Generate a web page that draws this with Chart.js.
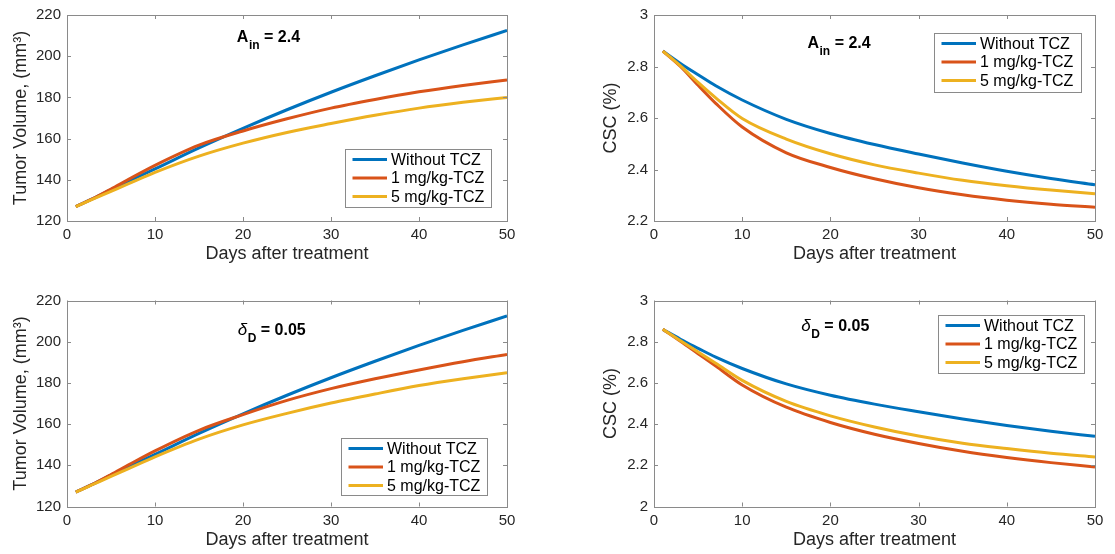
<!DOCTYPE html>
<html>
<head>
<meta charset="utf-8">
<script src="https://cdn.jsdelivr.net/npm/chart.js@4.4.0/dist/chart.umd.min.js"></script>
<style>
  body { margin: 0; background: #fff; }
  #wrap { position: relative; width: 1115px; height: 554px; overflow: hidden; }
  #wrap canvas { position: absolute; }
</style>
</head>
<body>
<div id="wrap">
  <canvas id="volAin" width="557" height="277" style="left:0;top:0"></canvas>
  <canvas id="cscAin" width="558" height="277" style="left:557px;top:0"></canvas>
  <canvas id="volDelta" width="557" height="277" style="left:0;top:277px"></canvas>
  <canvas id="cscDelta" width="558" height="277" style="left:557px;top:277px"></canvas>
</div>
<script>
// simulation output, sampled days after treatment
const days = [1, 3, 5, 7, 10, 15, 20, 25, 30, 35, 40, 45, 50];
const seriesLabels = ['Without TCZ', '1 mg/kg-TCZ', '5 mg/kg-TCZ'];
const seriesColors = ['#0072BD', '#D95319', '#EDB120'];

// A_in = 2.4
const volAinNone = [127, 131, 135.2, 139.3, 145.3, 155.5, 165, 174, 182.5, 190.5, 198.2, 205.5, 212.5];
const volAin1mg  = [127, 131, 135.5, 140.2, 147, 156.8, 163.7, 169.6, 174.8, 179, 182.7, 185.8, 188.5];
const volAin5mg  = [127, 130.7, 134.4, 138.1, 143.6, 151.5, 157.8, 163, 167.3, 171.3, 174.8, 177.6, 180];
const cscAinNone = [2.86, 2.812, 2.768, 2.725, 2.67, 2.595, 2.54, 2.497, 2.46, 2.425, 2.393, 2.365, 2.341];
const cscAin1mg  = [2.86, 2.8, 2.727, 2.657, 2.565, 2.465, 2.408, 2.364, 2.329, 2.302, 2.281, 2.265, 2.253];
const cscAin5mg  = [2.86, 2.802, 2.738, 2.678, 2.598, 2.518, 2.461, 2.418, 2.386, 2.358, 2.337, 2.32, 2.306];

// delta_D = 0.05
const volDeltaNone = [127, 131, 135.2, 139.3, 145.3, 155.5, 165, 174, 182.5, 190.5, 198.2, 205.5, 212.5];
const volDelta1mg  = [127, 131, 135.5, 140.2, 147, 157, 164.6, 171.5, 177.2, 182, 186.3, 190.3, 193.8];
const volDelta5mg  = [127, 130.8, 134.6, 138.4, 144.1, 152.7, 159.6, 165.2, 170.2, 174.6, 178.7, 182, 184.9];
const cscDeltaNone = [2.86, 2.812, 2.768, 2.725, 2.67, 2.595, 2.54, 2.497, 2.46, 2.425, 2.393, 2.365, 2.341];
const cscDelta1mg  = [2.86, 2.802, 2.742, 2.682, 2.59, 2.482, 2.408, 2.351, 2.306, 2.268, 2.238, 2.213, 2.192];
const cscDelta5mg  = [2.86, 2.805, 2.75, 2.695, 2.612, 2.51, 2.44, 2.386, 2.342, 2.307, 2.281, 2.258, 2.24];

const dayTicks = [0, 10, 20, 30, 40, 50];
const volTicks = [120, 140, 160, 180, 200, 220];
const cscTicksAin = [2.2, 2.4, 2.6, 2.8, 3];
const cscTicksDelta = [2, 2.2, 2.4, 2.6, 2.8, 3];

const FONT = '"Liberation Sans", Arial, Helvetica, sans-serif';
const TEXT = '#262626';
const BOX = '#8a8a8a';

// matlab-ish axes: grey box, inward ticks, boxed legend and a bold note
const matlabAxes = {
  id: 'matlabAxes',
  afterDatasetsDraw(chart, args, opts) {
    const { ctx, chartArea: a, scales } = chart;
    ctx.save();
    ctx.strokeStyle = BOX;
    ctx.lineWidth = 1;
    ctx.strokeRect(Math.round(a.left) + 0.5, Math.round(a.top) + 0.5,
                   Math.round(a.right - a.left), Math.round(a.bottom - a.top));
    ctx.beginPath();
    scales.x.ticks.forEach(t => {
      const px = Math.round(scales.x.getPixelForValue(t.value)) + 0.5;
      ctx.moveTo(px, a.bottom); ctx.lineTo(px, a.bottom - 4);
      ctx.moveTo(px, a.top); ctx.lineTo(px, a.top + 4);
    });
    scales.y.ticks.forEach(t => {
      const py = Math.round(scales.y.getPixelForValue(t.value)) + 0.5;
      ctx.moveTo(a.left, py); ctx.lineTo(a.left + 4, py);
      ctx.moveTo(a.right, py); ctx.lineTo(a.right - 4, py);
    });
    ctx.stroke();
    ctx.restore();
  },
  afterDraw(chart, args, opts) {
    const { ctx, scales } = chart;
    ctx.save();

    // note with subscript
    const n = opts.note;
    let x = scales.x.getPixelForValue(n.day);
    const y = scales.y.getPixelForValue(n.value) + 5.5;
    ctx.fillStyle = '#000';
    ctx.textBaseline = 'alphabetic';
    ctx.font = n.symbolFont;
    ctx.fillText(n.symbol, x, y);
    x += ctx.measureText(n.symbol).width + 0.5;
    ctx.font = 'bold 12px ' + FONT;
    ctx.fillText(n.sub, x, y + 7);
    x += ctx.measureText(n.sub).width;
    ctx.font = 'bold 16px ' + FONT;
    ctx.fillText(n.rest, x, y);

    // legend box
    const L = opts.legend;
    ctx.fillStyle = '#fff';
    ctx.fillRect(L.x, L.y, L.w, L.h);
    ctx.strokeStyle = BOX;
    ctx.lineWidth = 1;
    ctx.strokeRect(Math.round(L.x) + 0.5, Math.round(L.y) + 0.5, Math.round(L.w), Math.round(L.h));
    ctx.font = '16px ' + FONT;
    ctx.textBaseline = 'middle';
    chart.data.datasets.forEach((ds, i) => {
      const ly = L.y + 10.5 + i * 18.5;
      ctx.strokeStyle = ds.borderColor;
      ctx.lineWidth = 3;
      ctx.beginPath();
      ctx.moveTo(L.x + 7.5, ly);
      ctx.lineTo(L.x + 42, ly);
      ctx.stroke();
      ctx.fillStyle = '#000';
      ctx.fillText(ds.label, L.x + 46, ly + 1);
    });
    ctx.restore();
  }
};

function makeChart(id, series, yMin, yMax, yTicks, yTitle, layout, note, legend) {
  const datasets = series.map((vals, i) => ({
    label: seriesLabels[i],
    data: days.map((d, k) => ({ x: d, y: vals[k] })),
    borderColor: seriesColors[i],
    borderWidth: 3,
    pointRadius: 0,
    fill: false,
    cubicInterpolationMode: 'monotone',
    order: 2 - i
  }));
  return new Chart(document.getElementById(id), {
    type: 'line',
    data: { datasets },
    plugins: [matlabAxes],
    options: {
      responsive: false,
      animation: false,
      layout: { padding: { top: layout.top, right: layout.right, bottom: 0, left: 0 } },
      plugins: {
        legend: { display: false },
        tooltip: { enabled: false },
        matlabAxes: { note, legend }
      },
      scales: {
        x: {
          type: 'linear',
          min: 0,
          max: 50,
          afterBuildTicks: s => { s.ticks = dayTicks.map(v => ({ value: v })); },
          afterFit: s => { s.height = layout.xHeight; },
          grid: { display: false, drawTicks: false },
          border: { display: false },
          ticks: { color: TEXT, font: { family: FONT, size: 15 }, padding: 5, maxRotation: 0 },
          title: {
            display: true,
            text: 'Days after treatment',
            color: TEXT,
            font: { family: FONT, size: 18 },
            padding: { top: 0, bottom: layout.xTitlePad }
          }
        },
        y: {
          type: 'linear',
          min: yMin,
          max: yMax,
          afterBuildTicks: s => { s.ticks = yTicks.map(v => ({ value: v })); },
          afterFit: s => { s.width = layout.yWidth; },
          grid: { display: false, drawTicks: false },
          border: { display: false },
          ticks: {
            color: TEXT,
            font: { family: FONT, size: 15 },
            padding: 6,
            callback: v => String(+v.toFixed(1))
          },
          title: {
            display: true,
            text: yTitle,
            color: TEXT,
            font: { family: FONT, size: 18 },
            padding: { top: layout.yTitlePad, bottom: 0 }
          }
        }
      }
    }
  });
}

const ainNote = { symbol: 'A', symbolFont: 'bold 16px ' + FONT, sub: 'in', rest: ' = 2.4' };
const deltaNote = { symbol: 'δ', symbolFont: 'italic 17px ' + FONT, sub: 'D', rest: ' = 0.05' };

makeChart('volAin', [volAinNone, volAin1mg, volAin5mg], 120, 220, volTicks, 'Tumor Volume, (mm³)',
  { top: 15, right: 50, xHeight: 56, yWidth: 67, xTitlePad: 12.5, yTitlePad: 10 },
  Object.assign({ day: 19.3, value: 209.8 }, ainNote),
  { x: 345, y: 149, w: 146, h: 58 });

makeChart('cscAin', [cscAinNone, cscAin1mg, cscAin5mg], 2.2, 3, cscTicksAin, 'CSC (%)',
  { top: 15, right: 20, xHeight: 56, yWidth: 97, xTitlePad: 12.5, yTitlePad: 43 },
  Object.assign({ day: 17.4, value: 2.892 }, ainNote),
  { x: 377, y: 33, w: 147, h: 59 });

makeChart('volDelta', [volDeltaNone, volDelta1mg, volDelta5mg], 120, 220, volTicks, 'Tumor Volume, (mm³)',
  { top: 23.5, right: 50, xHeight: 47.5, yWidth: 67, xTitlePad: 3.5, yTitlePad: 10 },
  Object.assign({ day: 19.4, value: 206.1 }, deltaNote),
  { x: 341, y: 161, w: 146, h: 57 });

makeChart('cscDelta', [cscDeltaNone, cscDelta1mg, cscDelta5mg], 2, 3, cscTicksDelta, 'CSC (%)',
  { top: 23.5, right: 20, xHeight: 47.5, yWidth: 97, xTitlePad: 3.5, yTitlePad: 43 },
  Object.assign({ day: 16.7, value: 2.877 }, deltaNote),
  { x: 381, y: 38, w: 146, h: 58 });
</script>
</body>
</html>
